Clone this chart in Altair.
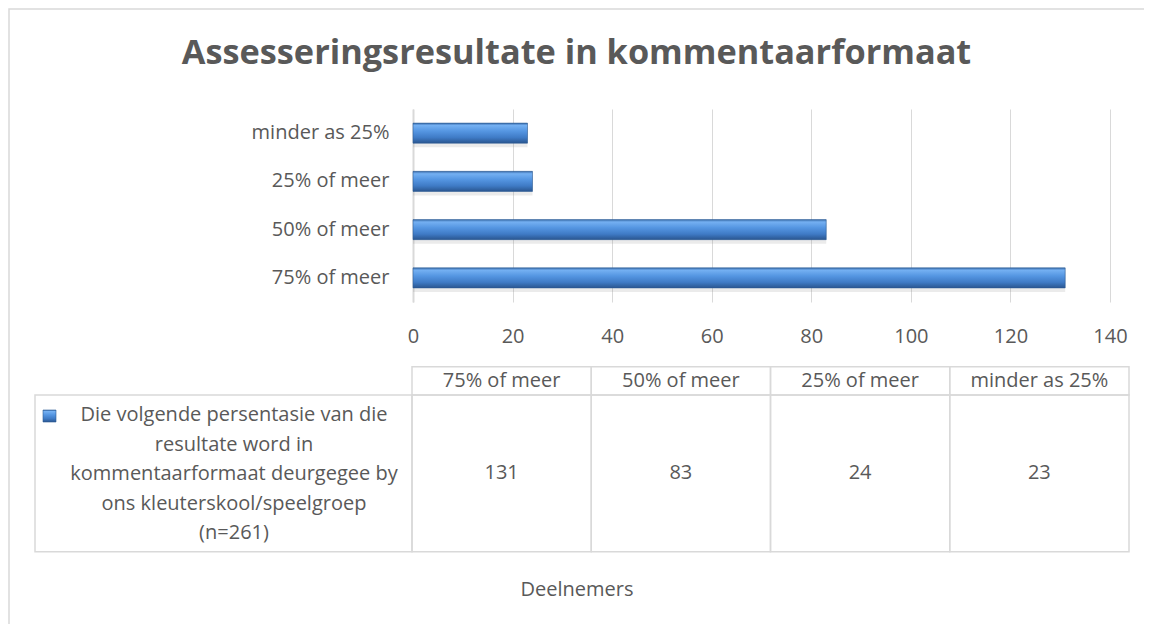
import altair as alt
import pandas as pd

# ---------------- data ----------------
title_text = "Assesseringsresultate in kommentaarformaat"
categories = ["75% of meer", "50% of meer", "25% of meer", "minder as 25%"]
values = [131, 83, 24, 23]
axis_ticks = [0, 20, 40, 60, 80, 100, 120, 140]
series_label = [
    "Die volgende persentasie van die",
    "resultate word in",
    "kommentaarformaat deurgegee by",
    "ons kleuterskool/speelgroep",
    "(n=261)",
]
axis_title = "Deelnemers"

df = pd.DataFrame({"cat": categories, "val": values})
bar_order = categories[::-1]
one = pd.DataFrame({"label": ["\n".join(series_label)], "title": [title_text], "axt": [axis_title]})

# ---------------- style ----------------
TXT = "#595959"
LINE = "#d9d9d9"
FONT = "Open Sans"
FS = 20

bar_grad = alt.Gradient(
    gradient="linear", x1=0, x2=0, y1=0, y2=1,
    stops=[
        alt.GradientStop(color="#3d6fae", offset=0),
        alt.GradientStop(color="#74b0f2", offset=0.12),
        alt.GradientStop(color="#5596e2", offset=0.4),
        alt.GradientStop(color="#3f7bc6", offset=0.72),
        alt.GradientStop(color="#2a5690", offset=1),
    ],
)

y_enc = alt.Y(
    "cat:N", sort=bar_order,
    scale=alt.Scale(domain=bar_order, paddingInner=0.585, paddingOuter=0.2925),
    axis=alt.Axis(title=None, labelFont=FONT, labelFontSize=FS, labelColor=TXT,
                  ticks=False, tickSize=0, labelPadding=24,
                  domainColor=LINE, domainWidth=2, grid=False),
)
x_scale = alt.Scale(domain=[0, 140], nice=False)
x_enc = alt.X(
    "val:Q", scale=x_scale,
    axis=alt.Axis(values=axis_ticks, title=None, grid=True, gridColor=LINE, gridWidth=1,
                  domain=False, ticks=False, tickSize=0, labelPadding=24, labelFlush=False,
                  labelFont=FONT, labelFontSize=FS, labelColor=TXT),
)

x_tab = alt.X("cat:N", sort=categories,
              scale=alt.Scale(domain=categories, range=[-1, 716], paddingInner=0, paddingOuter=0),
              axis=None)

# ---------------- layers ----------------
border = alt.Chart(one).mark_rect(fill="white", fillOpacity=0, stroke=LINE, strokeWidth=1.5).encode(
    x=alt.value(-404), x2=alt.value(900), y=alt.value(-100), y2=alt.value(700))

shadow = alt.Chart(df).mark_bar(color="#808080", opacity=0.16).encode(
    x=alt.X("val:Q", scale=x_scale, axis=None), y=y_enc, yOffset=alt.value(4))

bars = alt.Chart(df).mark_bar(color=bar_grad, stroke="#2b5a94", strokeWidth=0.6).encode(
    x=x_enc, y=y_enc)

header_cells = alt.Chart(df).mark_rect(fill="white", fillOpacity=0, stroke=LINE, strokeWidth=1.5).encode(
    x=x_tab, y=alt.value(257.7), y2=alt.value(286))
data_cells = alt.Chart(df).mark_rect(fill="white", fillOpacity=0, stroke=LINE, strokeWidth=1.5).encode(
    x=x_tab, y=alt.value(286), y2=alt.value(442.7))
label_cell = alt.Chart(one).mark_rect(fill="white", fillOpacity=0, stroke=LINE, strokeWidth=1.5).encode(
    x=alt.value(-378), x2=alt.value(-1), y=alt.value(286), y2=alt.value(442.7))

header_text = alt.Chart(df).mark_text(font=FONT, fontSize=FS, color=TXT, baseline="middle").encode(
    x=x_tab, y=alt.value(271.7), text="cat:N")
value_text = alt.Chart(df).mark_text(font=FONT, fontSize=FS, color=TXT, baseline="middle").encode(
    x=x_tab, y=alt.value(364), text="val:Q")

key = alt.Chart(one).mark_rect(color=bar_grad, stroke="#2b5a94", strokeWidth=0.6).encode(
    x=alt.value(-370), x2=alt.value(-357), y=alt.value(301), y2=alt.value(313))
legend_text = alt.Chart(one).mark_text(font=FONT, fontSize=FS, color=TXT, align="center",
                                       baseline="middle", lineBreak="\n", lineHeight=29.5).encode(
    x=alt.value(-179), y=alt.value(306), text="label:N")

axis_title_text = alt.Chart(one).mark_text(font=FONT, fontSize=FS, color=TXT, baseline="middle").encode(
    x=alt.value(164), y=alt.value(481), text="axt:N")

title_mark = alt.Chart(one).mark_text(font=FONT, fontSize=34.3, fontWeight="bold", color=TXT,
                                      align="center", baseline="alphabetic").encode(
    x=alt.value(163.5), y=alt.value(-44.7), text="title:N")

chart = alt.layer(
    border, shadow, bars, header_cells, data_cells, label_cell,
    header_text, value_text, key, legend_text, axis_title_text, title_mark,
).resolve_scale(x="independent").properties(
    width=697, height=193,
    padding={"left": 405, "top": 101, "right": 34, "bottom": 322},
    autosize=alt.AutoSizeParams(type="none"),
).configure_view(strokeWidth=0)

chart.save("out.html", embed_options={"renderer": "svg", "actions": False})
